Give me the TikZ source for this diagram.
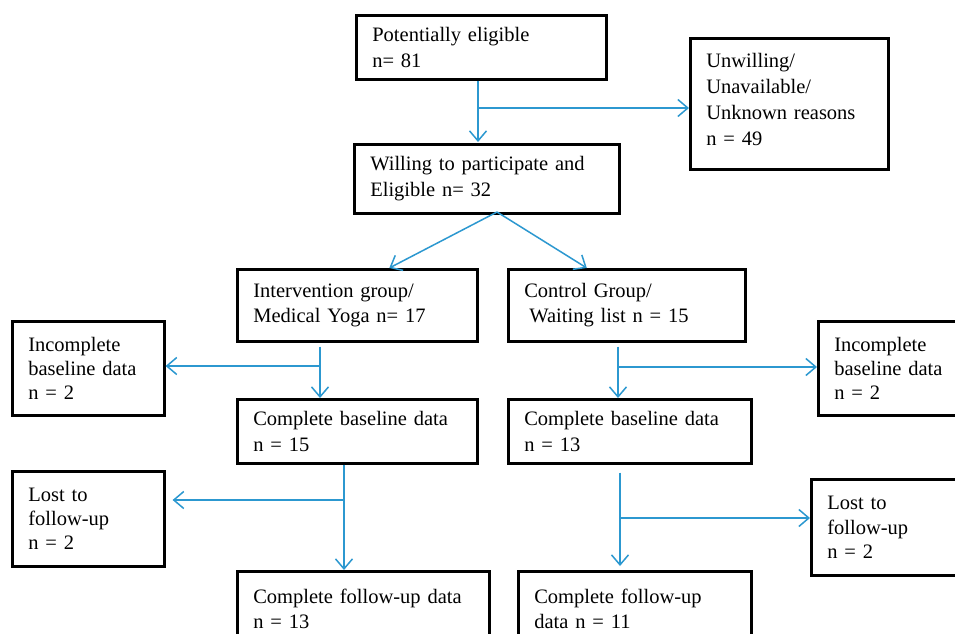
\documentclass[tikz,border=0pt]{standalone}
\usepackage{fontspec}
\setmainfont{Liberation Serif}
\usetikzlibrary{arrows.meta}
\definecolor{flowblue}{RGB}{44,152,208}
\tikzset{
  box/.style={draw, line width=2.6pt, anchor=north west, align=left, inner xsep=16pt, inner ysep=0pt,
    font=\fontsize{20.5}{25.5}\selectfont},
  tight/.style={font=\fontsize{20.5}{24.3}\selectfont},
  link/.style={draw=flowblue, line width=1.5pt, -{Straight Barb[length=10pt,width=17pt]}},
}
\begin{document}
\begin{tikzpicture}[x=1pt, y=-1pt]
  \path[use as bounding box, fill=white] (0,0) rectangle (955,633);
  % boxes
  \node[box, text width=218, minimum height=64] (pe) at (355,14) {Potentially eligible\\n= 81};
  \node[box, text width=166, minimum height=131, text depth=87pt, font=\fontsize{20.5}{26}\selectfont] (un) at (689,37) {Unwilling/\\Unavailable/\\Unknown reasons\\n = 49};
  \node[box, text width=233, minimum height=69] (wi) at (353,143) {Willing to participate and\\Eligible n= 32};
  \node[box, text width=208, minimum height=72] (iv) at (236,268) {Intervention group/\\Medical Yoga n= 17};
  \node[box, text width=205, minimum height=72] (cg) at (507,268) {Control Group/\\\hspace{0.25em}Waiting list n = 15};
  \node[box, tight, text width=120, minimum height=94] (icl) at (11,320) {Incomplete\\baseline data\\n = 2};
  \node[box, tight, text width=120, minimum height=94] (icr) at (817,320) {Incomplete\\baseline data\\n = 2};
  \node[box, text width=208, minimum height=64] (cbl) at (236,398) {Complete baseline data\\n = 15};
  \node[box, text width=211, minimum height=64] (cbr) at (507,398) {Complete baseline data\\n = 13};
  \node[box, tight, text width=120, minimum height=95] (lfl) at (11,470) {Lost to\\follow-up\\n = 2};
  \node[box, tight, text width=118, minimum height=96] (lfr) at (810,478) {Lost to\\follow-up\\n = 2};
  \node[box, text width=220, minimum height=75] (cfl) at (236,570) {Complete follow-up data\\n = 13};
  \node[box, text width=201, minimum height=75] (cfr) at (517,570) {Complete follow-up\\data n = 11};
  % connectors
  \coordinate (jt) at (478,108);
  \draw[link, shorten >=1pt] (jt |- pe.south) -- (jt |- wi.north);
  \draw[link] (jt) -- (jt -| un.west);
  \coordinate (split) at (497,212);
  \draw[link] (split) -- ([xshift=32pt]iv.north);
  \draw[link] (split) -- ([xshift=-40pt]cg.north);
  \coordinate (jl1) at (320,366);
  \draw[link, shorten <=4pt] (jl1 |- iv.south) -- (jl1 |- cbl.north);
  \draw[link] (jl1) -- (jl1 -| icl.east);
  \coordinate (jr1) at (618,367);
  \draw[link, shorten <=4pt] (jr1 |- cg.south) -- (jr1 |- cbr.north);
  \draw[link] (jr1) -- (jr1 -| icr.west);
  \coordinate (jl2) at (344,500);
  \draw[link] (jl2 |- cbl.south) -- (jl2 |- cfl.north);
  \draw[link, shorten >=7pt] (jl2) -- (jl2 -| lfl.east);
  \coordinate (jr2) at (620,518);
  \draw[link, shorten <=8pt, shorten >=4pt] (jr2 |- cbr.south) -- (jr2 |- cfr.north);
  \draw[link] (jr2) -- (jr2 -| lfr.west);
\end{tikzpicture}
\end{document}
